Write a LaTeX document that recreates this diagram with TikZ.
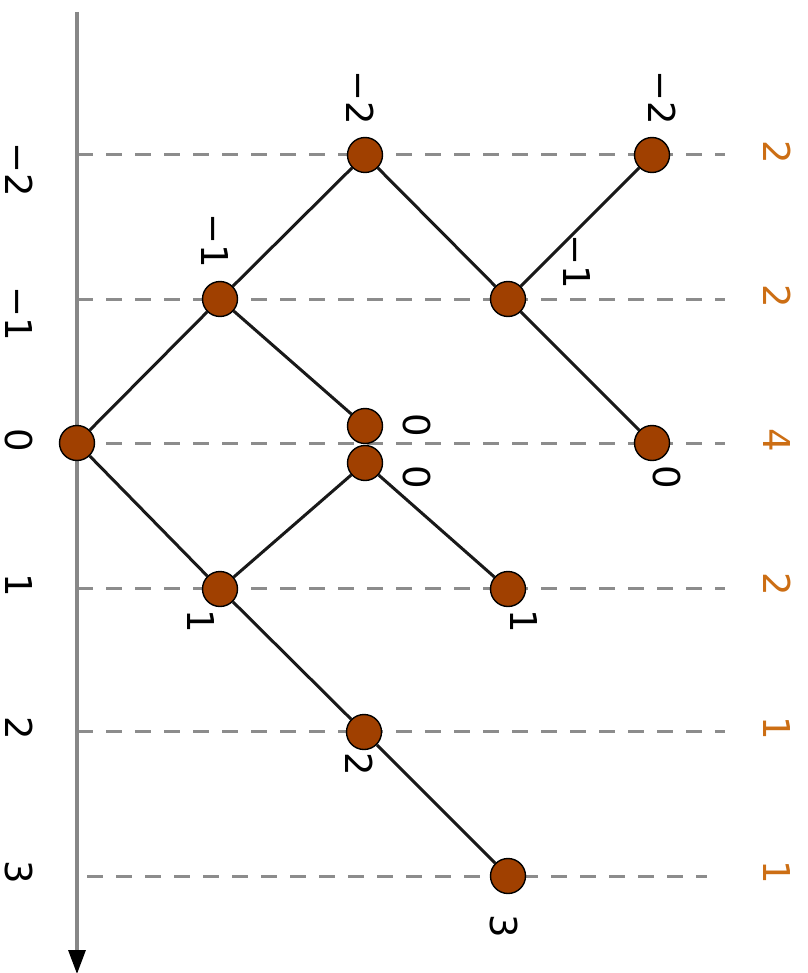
\documentclass[tikz,border=0pt]{standalone}
\usepackage{fontspec}
\setmainfont{DejaVu Sans}
\usetikzlibrary{arrows.meta}
\definecolor{nodefill}{RGB}{160,64,0}
\definecolor{lblorange}{RGB}{204,110,20}
\definecolor{gridgray}{RGB}{140,140,140}
\definecolor{axisgray}{RGB}{135,135,135}
\begin{document}
\begin{tikzpicture}[x=1pt,y=-1pt,
  vtx/.style={circle,draw=black,fill=nodefill,minimum size=35pt,inner sep=0pt,line width=1.4pt},
  lbl/.style={rotate=-90,font=\fontsize{37}{40}\selectfont,inner sep=0pt,text=black},
  olbl/.style={lbl,text=lblorange},
  link/.style={line width=3pt,black!90},
  gridline/.style={gridgray,line width=3pt,dash pattern=on 16pt off 13pt},
  axisline/.style={axisgray,line width=3.2pt}]
\useasboundingbox (0,0) rectangle (807,973);
% dashed level lines
\coordinate (g1s) at (77,155); \coordinate (g1e) at (725,155);
\coordinate (g2s) at (77,299); \coordinate (g2e) at (725,299);
\coordinate (g3s) at (77,443); \coordinate (g3e) at (725,443);
\coordinate (g4s) at (77,588); \coordinate (g4e) at (725,588);
\coordinate (g5s) at (77,731); \coordinate (g5e) at (725,731);
\coordinate (g6s) at (87,876); \coordinate (g6e) at (707,876);
\foreach \i in {1,...,6} {\draw[gridline] (g\i s) -- (g\i e);}
% axis
\coordinate (axtop) at (77,12);
\coordinate (axbot) at (77,974);
\draw[axisline,-{Triangle[length=24pt,width=17pt,color=black,fill=black]}] (axtop) -- (axbot);
% vertices
\node[vtx] (A) at (77,443) {};
\node[vtx] (B) at (220,299) {};
\node[vtx] (C) at (220,589) {};
\node[vtx] (D) at (365,155) {};
\node[vtx] (E) at (365,426) {};
\node[vtx] (F) at (365,463) {};
\node[vtx] (G) at (364,732) {};
\node[vtx] (H) at (508,299) {};
\node[vtx] (I) at (508,589) {};
\node[vtx] (J) at (508,876) {};
\node[vtx] (K) at (652,155) {};
\node[vtx] (L) at (652,443) {};
% edges
\draw[link] (A) -- (B);
\draw[link] (A) -- (C);
\draw[link] (B) -- (D);
\draw[link] (B) -- (E);
\draw[link] (C) -- (F);
\draw[link] (C) -- (G);
\draw[link] (D) -- (H);
\draw[link] (F) -- (I);
\draw[link] (G) -- (J);
\draw[link] (H) -- (K);
\draw[link] (H) -- (L);
% axis tick labels
\node[lbl] (t1) at (19,170) {−2};
\node[lbl] (t2) at (19,314) {−1};
\node[lbl] (t3) at (19,440) {0};
\node[lbl] (t4) at (19,585) {1};
\node[lbl] (t5) at (19,728) {2};
\node[lbl] (t6) at (19,872) {3};
% vertex labels
\node[lbl] (lD) at (360,98) {−2};
\node[lbl] (lK) at (662,98) {−2};
\node[lbl] (lB) at (215,241) {−1};
\node[lbl] (lH) at (577,262) {−1};
\node[lbl] (lE) at (417,425) {0};
\node[lbl] (lF) at (417,477) {0};
\node[lbl] (lL) at (667,477) {0};
\node[lbl] (lC) at (201,621) {1};
\node[lbl] (lI) at (524,621) {1};
\node[lbl] (lG) at (359,764) {2};
\node[lbl] (lJ) at (504,926) {3};
% counts
\node[olbl] (c1) at (777,152) {2};
\node[olbl] (c2) at (777,296) {2};
\node[olbl] (c3) at (777,440) {4};
\node[olbl] (c4) at (777,584) {2};
\node[olbl] (c5) at (777,728) {1};
\node[olbl] (c6) at (777,872) {1};
\end{tikzpicture}
\end{document}
